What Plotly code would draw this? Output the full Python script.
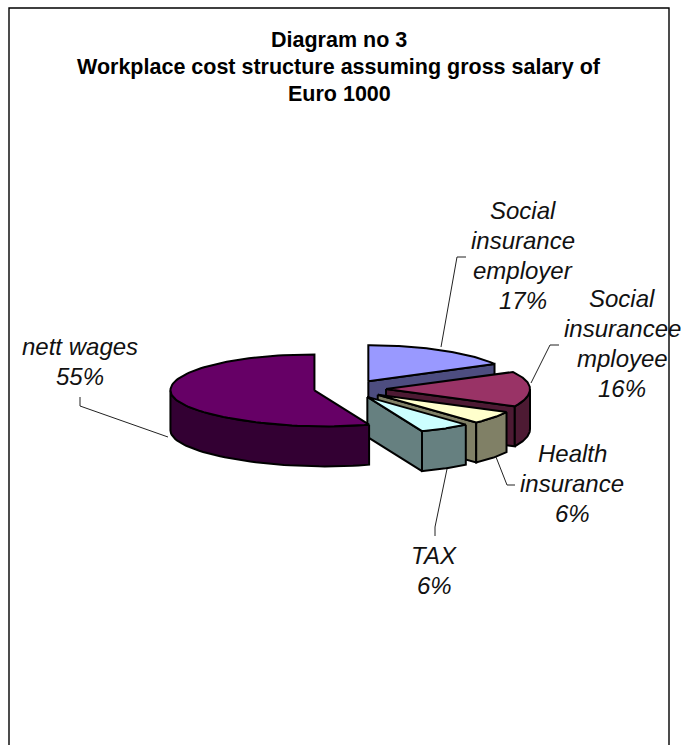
import numpy as np
import plotly.graph_objects as go

categories = ["Social insurance employer", "Social insurance employee",
              "Health insurance", "TAX", "nett wages"]
shares = [17, 16, 6, 6, 55]
top_colors = ["#9999FF", "#993366", "#FFFFCC", "#CCFFFF", "#660066"]
side_colors = ["#4D4D80", "#4D1A33", "#808066", "#668080", "#330033"]
label_lines = [
    ["Social", "insurance", "employer", "17%"],
    ["Social", "insurancee", "mployee", "16%"],
    ["Health", "insurance", "6%"],
    ["TAX", "6%"],
    ["nett wages", "55%"],
]
title_lines = ["Diagram no 3", "Workplace cost structure assuming gross salary of", "Euro 1000"]

# Pie geometry in page pixels: centre, radii, rim height, explosion and front lean
CX, CY = 350, 389
RX, RY = 144, 36
DEPTH = 40
EXPLODE = 0.25
LEAN = 0.078


def project(center, angle_deg, radius=1.0):
    """Map a clockwise-from-north angle on a slice onto the tilted pie."""
    a = np.radians(angle_deg)
    u, v = radius * np.sin(a), -radius * np.cos(a)
    front = np.maximum(v, 0)
    return center[0] + RX * u + LEAN * RX * front ** 2, center[1] + RY * v


def arc(center, start, end, n=48):
    return project(center, np.linspace(start, end, n))


fig = go.Figure()


def add_poly(xs, ys, color):
    fig.add_trace(go.Scatter(
        x=list(xs) + [xs[0]], y=list(ys) + [ys[0]], mode="lines", fill="toself",
        fillcolor=color, line=dict(color="black", width=2), hoverinfo="skip",
        showlegend=False))


edges = np.concatenate([[0], np.cumsum(shares)]) * 3.6
for i in range(len(shares)):
    start, end = edges[i], edges[i + 1]
    mid = np.radians((start + end) / 2)
    center = (CX + EXPLODE * RX * np.sin(mid), CY - EXPLODE * RY * np.cos(mid))

    # Radial wall on the trailing edge, visible for slices on the right half
    if end <= 180:
        px, py = project(center, end)
        add_poly([center[0], px, px, center[0]],
                 [center[1], py, py + DEPTH, center[1] + DEPTH], side_colors[i])
    # Outer rim, only the part facing the viewer
    lo, hi = max(start, 90), min(end, 270)
    if hi > lo:
        ax, ay = arc(center, lo, hi)
        add_poly(np.concatenate([ax, ax[::-1]]),
                 np.concatenate([ay, ay[::-1] + DEPTH]), side_colors[i])
    # Top face
    ax, ay = arc(center, start, end, 96)
    add_poly(np.concatenate([[center[0]], ax]), np.concatenate([[center[1]], ay]), top_colors[i])

# Leader lines run from each slice to its label
leaders = [
    ([441, 457, 466], [347, 257, 257]),
    ([531, 550, 559], [383, 345, 345]),
    ([496, 507, 515], [457, 485, 485]),
    ([447, 435, 435], [469, 527, 536]),
    ([168, 80, 80], [437, 406, 397]),
]
for lx, ly in leaders:
    fig.add_trace(go.Scatter(x=lx, y=ly, mode="lines", line=dict(color="#222222", width=1),
                             hoverinfo="skip", showlegend=False))

label_anchor = [(523, 210), (622, 298), (572, 453), (434, 555), (80, 346)]
for lines, (x0, y0) in zip(label_lines, label_anchor):
    for k, text in enumerate(lines):
        fig.add_annotation(x=x0, y=y0 + k * 30.2, text=f"<i>{text}</i>", showarrow=False, xref="x", yref="y",
                           font=dict(family="Liberation Sans", size=24, color="#111111"),
                           xanchor="center", yanchor="middle")

for k, text in enumerate(title_lines):
    fig.add_annotation(x=339, y=39.5 + k * 27, text=f"<b>{text}</b>", showarrow=False, xref="x", yref="y",
                       font=dict(family="Liberation Sans", size=21.5, color="black"),
                       xanchor="center", yanchor="middle")

fig.update_layout(
    width=681, height=745, margin=dict(l=0, r=0, t=0, b=0), autosize=False,
    paper_bgcolor="white", plot_bgcolor="white", showlegend=False,
    xaxis=dict(range=[0, 681], visible=False, fixedrange=True),
    yaxis=dict(range=[745, 0], visible=False, fixedrange=True),
    shapes=[dict(type="path", path="M 9 750 L 9 8 L 669 8 L 669 750", xref="x", yref="y",
                 line=dict(color="black", width=1.4), layer="above")],
)
fig.write_html("out.html")
